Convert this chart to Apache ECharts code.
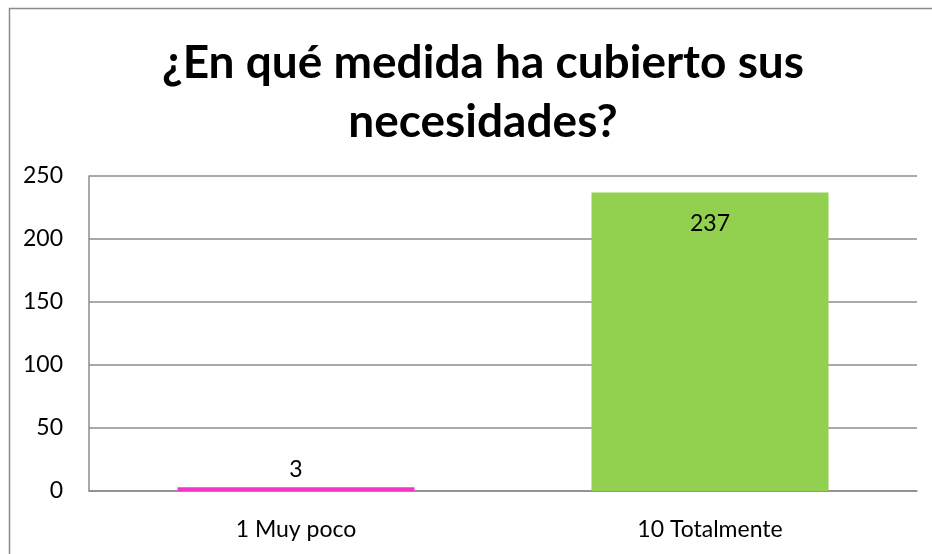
<!DOCTYPE html>
<html>
<head>
<meta charset="utf-8">
<script src="https://cdn.jsdelivr.net/npm/echarts@6/dist/echarts.min.js"></script>
<style>
  html, body { margin: 0; padding: 0; background: #fff; }
  #chart { width: 932px; height: 554px; }
</style>
</head>
<body>
<div id="chart"></div>
<script>
const categories = ['1 Muy poco', '10 Totalmente'];
const values = [3, 237];
const barColors = ['#f535c8', '#92d050'];
const yTicks = [0, 50, 100, 150, 200, 250];

const myChart = echarts.init(document.getElementById('chart'));
const font = 'Lato, "Noto Sans", sans-serif';

const option = {
  backgroundColor: '#fff',
  animation: false,
  title: {
    text: '¿En qué medida ha cubierto sus\nnecesidades?',
    left: 478,
    top: 29,
    textAlign: 'center',
    textStyle: {
      fontFamily: font,
      fontWeight: 'bold',
      fontSize: 46,
      lineHeight: 59,
      color: '#000'
    }
  },
  graphic: [{
    type: 'rect',
    left: 7,
    top: 6,
    shape: { width: 1000, height: 1000 },
    style: { fill: 'none', stroke: '#8a8a8a', lineWidth: 1.5 },
    silent: true
  }],
  grid: { left: 89, right: 15, top: 176, bottom: 63 },
  xAxis: {
    type: 'category',
    data: categories,
    axisLine: { lineStyle: { color: '#8c8c8c', width: 1.5 } },
    axisTick: { show: false },
    axisLabel: { fontFamily: font, fontSize: 23, color: '#000', margin: 27 }
  },
  yAxis: {
    type: 'value',
    min: yTicks[0],
    max: yTicks[yTicks.length - 1],
    interval: 50,
    axisLine: { show: true, lineStyle: { color: '#8c8c8c', width: 1.5 } },
    axisTick: { show: false },
    splitLine: { lineStyle: { color: '#8c8c8c', width: 1.5 } },
    axisLabel: { fontFamily: font, fontSize: 23, color: '#000', margin: 26 }
  },
  series: [{
    type: 'bar',
    barWidth: 237,
    data: values.map((v, i) => ({ value: v, itemStyle: { color: barColors[i] } })),
    label: {
      show: true,
      fontFamily: font,
      fontSize: 23,
      color: '#000',
      position: 'top',
      distance: 6
    }
  }]
};
// the tall bar has its label inside, near its top
option.series[0].data[1].label = { position: 'insideTop', distance: 20 };
myChart.setOption(option);
</script>
</body>
</html>
